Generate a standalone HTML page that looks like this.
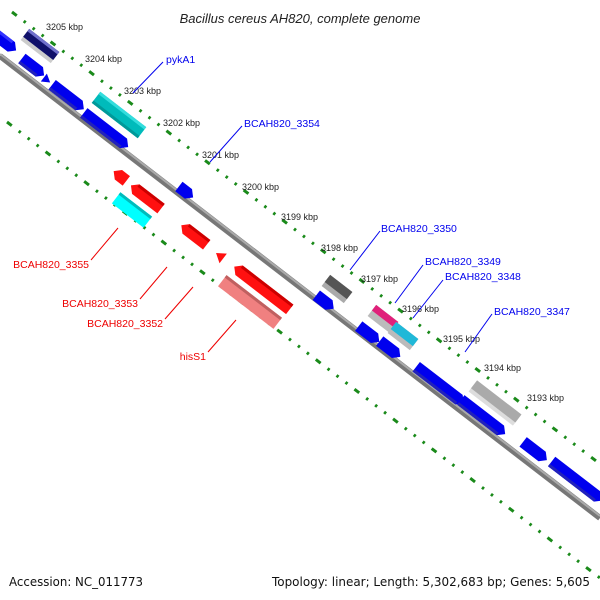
<!DOCTYPE html>
<html><head><meta charset="utf-8"><style>
html,body{margin:0;padding:0;background:#fff;}
svg{display:block;font-family:"Liberation Sans",sans-serif;}
</style></head><body>
<svg width="600" height="600" viewBox="0 0 600 600" xmlns="http://www.w3.org/2000/svg">
<text x="300" y="23" text-anchor="middle" font-size="13" font-style="italic" fill="#222">Bacillus cereus AH820, complete genome</text>
<!-- dotted lines -->
<g stroke="#1a8a1a" stroke-width="3" fill="none" stroke-dasharray="6,8.8,2.5,8.8,2.5,8.8,2.5,8.8">
<line x1="12" y1="12" x2="600" y2="464"/>
<line x1="7" y1="122" x2="600" y2="578"/>
</g>
<!-- axis -->
<line x1="0" y1="56" x2="600" y2="518" stroke="#777" stroke-width="6"/>
<line x1="0" y1="54" x2="600" y2="516" stroke="#aaa" stroke-width="2"/>

<g stroke="none">
<g transform="translate(5,42) rotate(37.6)"><polygon points="-16,-6 8,-6 14,0 8,6 -16,6" fill="#0000ee"/><rect x="-16" y="-6" width="22" height="3" fill="#3333ff"/></g>
<g transform="translate(40,46) rotate(37.6)"><rect x="-19" y="-7" width="38" height="14" fill="#ccc"/><rect x="-19" y="-7" width="38" height="10" fill="#10106a"/><rect x="-19" y="-7" width="38" height="3" fill="#7070cc"/></g>
<g transform="translate(33,67) rotate(37.6)"><polygon points="-14,-6 8,-6 14,0 8,6 -14,6" fill="#0000ee"/><rect x="-14" y="3" width="22" height="3" fill="#2222bb"/></g>
<g transform="translate(47,80) rotate(37.6)"><polygon points="-4,-5 4,0 -4,5" fill="#0000ee"/></g>
<g transform="translate(68,97) rotate(37.6)"><polygon points="-20,-6 14,-6 20,0 14,6 -20,6" fill="#0000ee"/><rect x="-20" y="3" width="34" height="3" fill="#2222bb"/></g>
<g transform="translate(119,115) rotate(37.6)"><rect x="-29" y="-7" width="58" height="14" fill="#00bbbb"/><rect x="-29" y="-7" width="58" height="3" fill="#33dddd"/><rect x="-29" y="4" width="58" height="3" fill="#009999"/></g>
<g transform="translate(106,130) rotate(37.6)"><polygon points="-28,-6 22,-6 28,0 22,6 -28,6" fill="#0000ee"/><rect x="-28" y="3" width="50" height="3" fill="#2222bb"/></g>
<g transform="translate(186,192) rotate(37.6)"><polygon points="-9,-6 3,-6 9,0 3,6 -9,6" fill="#0000ee"/></g>
<g transform="translate(337,289) rotate(37.6)"><rect x="-14" y="-7" width="28" height="14" fill="#aaa"/><rect x="-14" y="-7" width="28" height="9" fill="#555"/></g>
<g transform="translate(325,302) rotate(37.6)"><polygon points="-11,-6 5,-6 11,0 5,6 -11,6" fill="#0000ee"/></g>
<g transform="translate(383,319) rotate(37.6)"><rect x="-14" y="-7" width="28" height="14" fill="#bbb"/><rect x="-14" y="-7" width="28" height="7" fill="#e0207a"/></g>
<g transform="translate(403,336) rotate(37.6)"><rect x="-14" y="-7" width="28" height="14" fill="#bbb"/><rect x="-14" y="-7" width="28" height="9" fill="#20b8d8"/></g>
<g transform="translate(369,334) rotate(37.6)"><polygon points="-13,-6 7,-6 13,0 7,6 -13,6" fill="#0000ee"/></g>
<g transform="translate(390,349) rotate(37.6)"><polygon points="-13,-6 7,-6 13,0 7,6 -13,6" fill="#0000ee"/></g>
<g transform="translate(440,385) rotate(37.6)"><polygon points="-30,-6 24,-6 30,0 24,6 -30,6" fill="#0000ee"/><rect x="-30" y="3" width="54" height="3" fill="#2222bb"/></g>
<g transform="translate(495,403) rotate(37.6)"><rect x="-28" y="-7" width="56" height="14" fill="#ddd"/><rect x="-28" y="-7" width="56" height="10" fill="#aaa"/></g>
<g transform="translate(483,417) rotate(37.6)"><polygon points="-28,-6 22,-6 28,0 22,6 -28,6" fill="#0000ee"/><rect x="-28" y="3" width="50" height="3" fill="#2222bb"/></g>
<g transform="translate(535,451) rotate(37.6)"><polygon points="-15,-6 9,-6 15,0 9,6 -15,6" fill="#0000ee"/></g>
<g transform="translate(577,481) rotate(37.6)"><polygon points="-32,-6 26,-6 32,0 26,6 -32,6" fill="#0000ee"/><rect x="-32" y="3" width="58" height="3" fill="#2222bb"/></g>
<g transform="translate(120,176) rotate(37.6)"><polygon points="8,-6 -2,-6 -8,0 -2,6 8,6" fill="#ff1010"/></g>
<g transform="translate(146,197) rotate(37.6)"><polygon points="19,-6 -13,-6 -19,0 -13,6 19,6" fill="#ff1010"/><rect x="-13" y="-6" width="32" height="3" fill="#cc0000"/></g>
<g transform="translate(132,210) rotate(37.6)"><rect x="-20" y="-7" width="40" height="14" fill="#00ffff"/><rect x="-20" y="-7" width="40" height="3" fill="#00bbbb"/></g>
<g transform="translate(194,235) rotate(37.6)"><polygon points="16,-6 -10,-6 -16,0 -10,6 16,6" fill="#ff1010"/><rect x="-10" y="-6" width="26" height="3" fill="#cc0000"/></g>
<g transform="translate(220,256) rotate(37.6)"><polygon points="4,-6 -5,0 4,6" fill="#ff1010"/></g>
<g transform="translate(262,288) rotate(37.6)"><polygon points="35,-6 -29,-6 -35,0 -29,6 35,6" fill="#ff1010"/><rect x="-29" y="-6" width="64" height="3" fill="#cc0000"/></g>
<g transform="translate(250,302) rotate(37.6)"><rect x="-35" y="-7" width="70" height="14" fill="#f08080"/><rect x="-35" y="-7" width="70" height="3" fill="#c06060"/></g>
</g>

<g font-size="9" fill="#222">
<text x="46" y="30">3205 kbp</text>
<text x="85" y="62">3204 kbp</text>
<text x="124" y="94">3203 kbp</text>
<text x="163" y="126">3202 kbp</text>
<text x="202" y="158">3201 kbp</text>
<text x="242" y="190">3200 kbp</text>
<text x="281" y="220">3199 kbp</text>
<text x="321" y="251">3198 kbp</text>
<text x="361" y="282">3197 kbp</text>
<text x="402" y="312">3196 kbp</text>
<text x="443" y="342">3195 kbp</text>
<text x="484" y="371">3194 kbp</text>
<text x="527" y="401">3193 kbp</text>
</g>
<g stroke="#0000ee" stroke-width="1">
<line x1="163" y1="62" x2="133" y2="93"/>
<line x1="242" y1="126" x2="210" y2="162"/>
<line x1="380" y1="231" x2="350" y2="270"/>
<line x1="423" y1="265" x2="395" y2="303"/>
<line x1="443" y1="280" x2="413" y2="318"/>
<line x1="492" y1="314" x2="465" y2="352"/>
</g>
<g font-size="10.5" fill="#0000ee">
<text x="166" y="63">pykA1</text>
<text x="244" y="127">BCAH820_3354</text>
<text x="381" y="232">BCAH820_3350</text>
<text x="425" y="265">BCAH820_3349</text>
<text x="445" y="280">BCAH820_3348</text>
<text x="494" y="315">BCAH820_3347</text>
</g>
<g stroke="#ee0000" stroke-width="1">
<line x1="91" y1="260" x2="118" y2="228"/>
<line x1="140" y1="299" x2="167" y2="267"/>
<line x1="165" y1="319" x2="193" y2="287"/>
<line x1="208" y1="352" x2="236" y2="320"/>
</g>
<g font-size="10.5" fill="#ee0000" text-anchor="end">
<text x="89" y="268">BCAH820_3355</text>
<text x="138" y="307">BCAH820_3353</text>
<text x="163" y="327">BCAH820_3352</text>
<text x="206" y="360">hisS1</text>
</g>
<text x="9" y="586" font-size="12" fill="#111" font-family="DejaVu Sans, sans-serif" textLength="134" lengthAdjust="spacingAndGlyphs">Accession: NC_011773</text>
<text x="272" y="586" font-size="12" fill="#111" font-family="DejaVu Sans, sans-serif" textLength="318" lengthAdjust="spacingAndGlyphs">Topology: linear; Length: 5,302,683 bp; Genes: 5,605</text>
</svg>
</body></html>
